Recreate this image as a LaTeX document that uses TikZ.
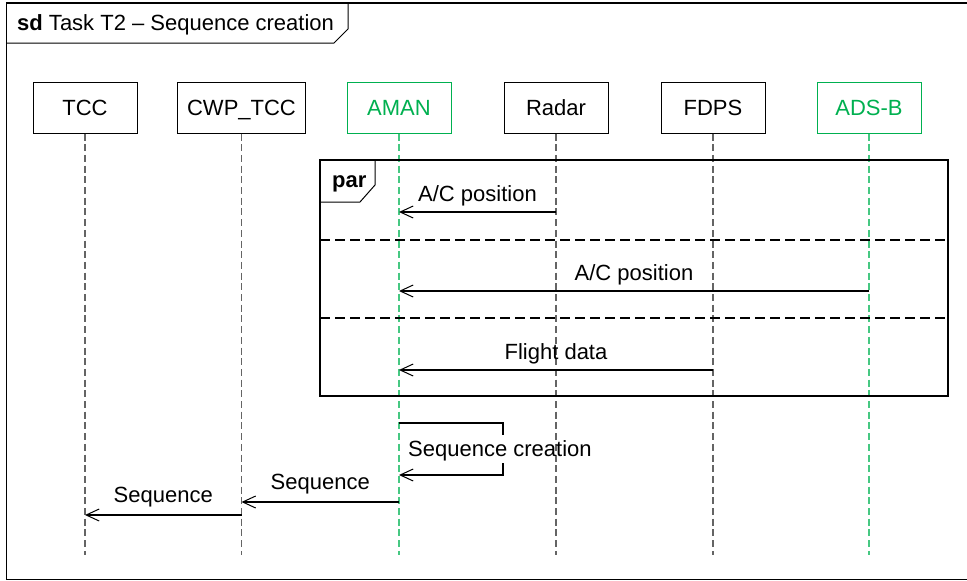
\documentclass[tikz,border=0pt]{standalone}
\usepackage{fontspec}
\setmainfont{Liberation Sans}
\usetikzlibrary{arrows.meta}
\definecolor{actorgreen}{RGB}{0,176,80}
\definecolor{lifegreen}{RGB}{70,200,130}
\definecolor{lifegray}{RGB}{100,100,100}

\begin{document}
\begin{tikzpicture}[x=1pt, y=-1pt,
  font=\fontsize{22}{26}\selectfont,
  head/.style={draw, line width=1pt, minimum width=104pt, minimum height=51pt,
               inner xsep=10pt, text height=16pt, text depth=0pt, fill=white},
  greenhead/.style={head, draw=actorgreen, text=actorgreen},
  lifeline/.style={draw=lifegray, line width=1.2pt, dash pattern=on 7pt off 3.7pt},
  greenlife/.style={lifeline, draw=lifegreen},
  msg/.style={line width=1.1pt, -{Straight Barb[length=13pt,width=12pt,line width=1pt]}},
  msglabel/.style={anchor=base, inner sep=0pt},
  frameline/.style={line width=1.2pt},
  sep/.style={line width=1.1pt, dash pattern=on 10pt off 5pt}
]
\useasboundingbox (0,0) rectangle (967,581);

% outer sd frame
\draw[frameline] (6.5,579.5) -- (6.5,3) -- (990,3);
\draw[frameline] (6.5,579.5) -- (990,579.5);
\draw[line width=1pt] (6.5,43) -- (334,43) -- (348,29) -- (348,3);
\node[anchor=base west, inner sep=0pt] (title) at (17,30)
  {\textbf{sd} Task T2 – Sequence creation};

% lifeline heads
\node[head]      (tcc)   at (85,107.5)  {TCC};
\node[head]      (cwp)   at (241.5,107.5) {CWP\_TCC};
\node[greenhead] (aman)  at (399,107.5) {AMAN};
\node[head]      (radar) at (556,107.5) {Radar};
\node[head]      (fdps)  at (713,107.5) {FDPS};
\node[greenhead] (adsb)  at (869,107.5) {ADS-B};

% lifeline ends
\coordinate (bottom) at (0,555);
\draw[lifeline]  (tcc.south)   -- (tcc |- bottom);
\draw[lifeline]  (cwp.south)   -- (cwp |- bottom);
\draw[greenlife] (aman.south)  -- (aman |- bottom);
\draw[lifeline]  (radar.south) -- (radar |- bottom);
\draw[lifeline]  (fdps.south)  -- (fdps |- bottom);
\draw[greenlife] (adsb.south)  -- (adsb |- bottom);

% par fragment
\draw[line width=1.1pt] (320,160) rectangle (948,396);
\draw[line width=1pt] (320,202) -- (360,202) -- (375,185) -- (375,160);
\node[anchor=base west, inner sep=0pt] (parlabel) at (332,187) {\textbf{par}};
\draw[sep] (320,240) -- (948,240);
\draw[sep] (320,318) -- (948,318);

% message rows
\coordinate (row1) at (0,212);
\coordinate (row2) at (0,291);
\coordinate (row3) at (0,370);
\coordinate (row4) at (0,502);
\coordinate (row5) at (0,515);

\draw[msg] (radar |- row1) -- node[msglabel, yshift=11pt] {A/C position} (aman |- row1);
\draw[msg] (adsb |- row2)  -- node[msglabel, yshift=11pt] {A/C position} (aman |- row2);
\draw[msg] (fdps |- row3)  -- node[msglabel, yshift=11pt] {Flight data} (aman |- row3);

% self message on AMAN
\coordinate (selftop) at (0,423);
\coordinate (selfbot) at (0,475);
\coordinate (selfx)   at (503,0);
\draw[line width=1.1pt] (aman |- selftop) -- (selfx |- selftop) -- ++(0,12);
\draw[msg] (selfx |- selfbot) ++(0,-12) -- (selfx |- selfbot) -- (aman |- selfbot);
\node[anchor=base west, inner sep=0pt] (selflabel) at (408,456) {Sequence creation};

\draw[msg] (aman |- row4) -- node[msglabel, yshift=13pt] {Sequence} (cwp |- row4);
\draw[msg] (cwp |- row5)  -- node[msglabel, yshift=13pt] {Sequence} (tcc |- row5);
\end{tikzpicture}
\end{document}
